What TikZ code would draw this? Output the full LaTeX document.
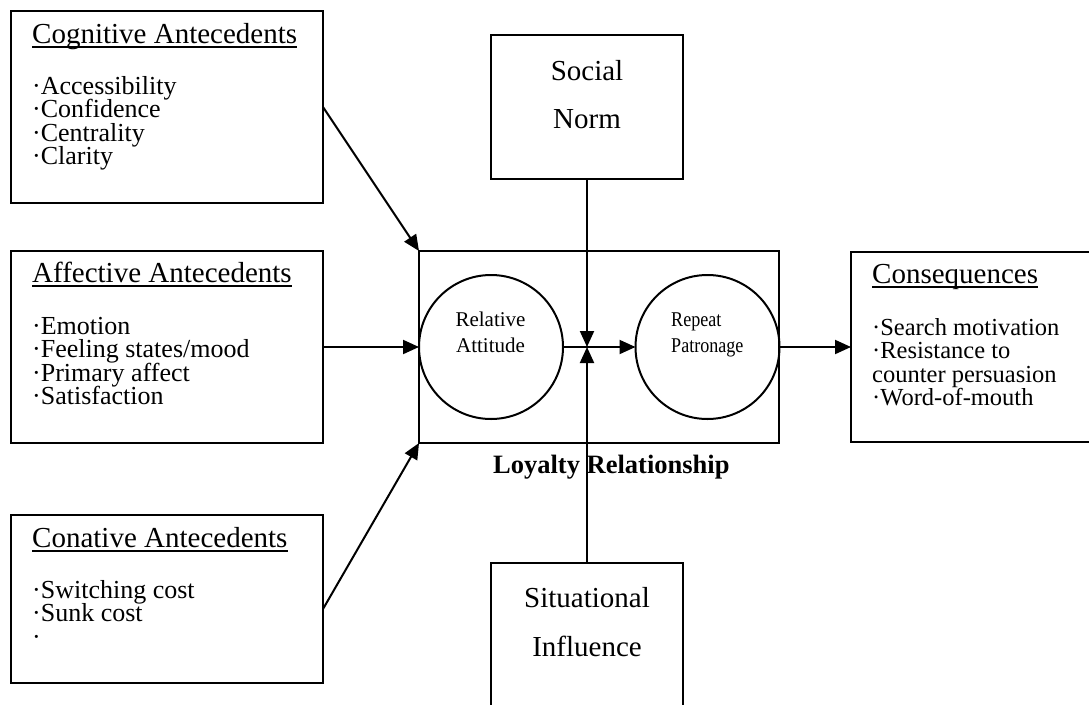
\documentclass[tikz,border=0pt]{standalone}
\usepackage{fontspec}
\setmainfont{Liberation Serif}
\newfontfamily\narrowserif[FakeStretch=0.86]{Liberation Serif}
\usetikzlibrary{arrows.meta}
\begin{document}
\begin{tikzpicture}[x=1pt,y=-1pt,
  frame/.style={draw, line width=2pt, rectangle, inner sep=0pt, outer sep=0pt},
  ring/.style={draw, line width=2pt, circle, inner sep=0pt, outer sep=0pt, minimum size=144pt},
  link/.style={line width=2pt, -{Triangle[length=16pt,width=14pt]}},
  heading/.style={anchor=base west, inner sep=0pt, font=\fontsize{29}{30}\selectfont},
  item/.style={anchor=base west, inner sep=0pt, font=\fontsize{26}{27}\selectfont},
  smallitem/.style={anchor=base west, inner sep=0pt, font=\fontsize{24.5}{26}\selectfont},
  bigtext/.style={anchor=base, inner sep=0pt, font=\fontsize{29}{30}\selectfont},
  smalltext/.style={anchor=base, inner sep=0pt, font=\fontsize{21}{22}\selectfont},
  condtext/.style={anchor=base west, inner sep=0pt, font=\fontsize{21}{22}\narrowserif},
  caption/.style={anchor=base west, inner sep=0pt, font=\fontsize{26.5}{27}\selectfont\bfseries},
  uline/.style={line width=1.4pt}
]
\useasboundingbox (0,0) rectangle (1089,704);
\clip (0,0) rectangle (1089,704);

% boxes
\node[frame, minimum width=312pt, minimum height=192pt] (cog) at (167,107) {};
\node[frame, minimum width=312pt, minimum height=192pt] (aff) at (167,347) {};
\node[frame, minimum width=312pt, minimum height=168pt] (con) at (167,599) {};
\node[frame, minimum width=360pt, minimum height=192pt] (big) at (599,347) {};
\node[frame, minimum width=240pt, minimum height=190pt] (cons) at (971,347) {};
\node[frame, minimum width=192pt, minimum height=144pt] (soc) at (587,107) {};
\node[frame, minimum width=192pt, minimum height=154pt] (sit) at (587,640) {};

% circles
\node[ring] (att) at (491,347) {};
\node[ring] (pat) at (707.5,347) {};
\coordinate (hub) at (587,347);

% headings
\node[heading] (cogh) at (32,43) {Cognitive Antecedents};
\node[heading] (affh) at (32,282) {Affective Antecedents};
\node[heading] (conh) at (32,547) {Conative Antecedents};
\node[heading] (consh) at (872,283) {Consequences};
\foreach \h in {cogh,affh,conh,consh}
  \draw[uline] ([yshift=-4pt]\h.base west) -- ([yshift=-4pt]\h.base east);

% lists
\foreach \t [count=\i] in {Accessibility,Confidence,Centrality,Clarity}
  \node[item] (cogi\i) at (32,{94+23.5*(\i-1)}) {·\t};
\foreach \t [count=\i] in {Emotion,Feeling states/mood,Primary affect,Satisfaction}
  \node[item] (affi\i) at (32,{334.5+23.3*(\i-1)}) {·\t};
\foreach \t [count=\i] in {·Switching cost,·Sunk cost,·}
  \node[item] (coni\i) at (32,{598+23.5*(\i-1)}) {\t};
\foreach \t [count=\i] in {·Search motivation,·Resistance to,counter persuasion,·Word-of-mouth}
  \node[smallitem] (consi\i) at (872,{335+23.5*(\i-1)}) {\t};

% moderator and construct labels
\node[bigtext] (soct1) at (587,80) {Social};
\node[bigtext] (soct2) at (587,128) {Norm};
\node[bigtext] (sitt1) at (587,607) {Situational};
\node[bigtext] (sitt2) at (587,656) {Influence};
\node[smalltext] (attt1) at (490.5,326) {Relative};
\node[smalltext] (attt2) at (490.5,352) {Attitude};
\node[condtext] (patt1) at (671,326) {Repeat};
\node[condtext] (patt2) at (671,352) {Patronage};
\node[caption] (loyal) at (493,473) {Loyalty Relationship};

% connectors
\draw[link] (cog.east) -- (big.north west);
\draw[link] (aff.east) -- (big.west);
\draw[link] ([yshift=-10pt]con.east) -- (big.south west);
\draw[link] (big.east) -- (cons.west);
\draw[link] (soc.south) -- (hub);
\draw[link] (sit.north) -- (hub);
\draw[link] (att.east) -- (pat.west);
\end{tikzpicture}
\end{document}
